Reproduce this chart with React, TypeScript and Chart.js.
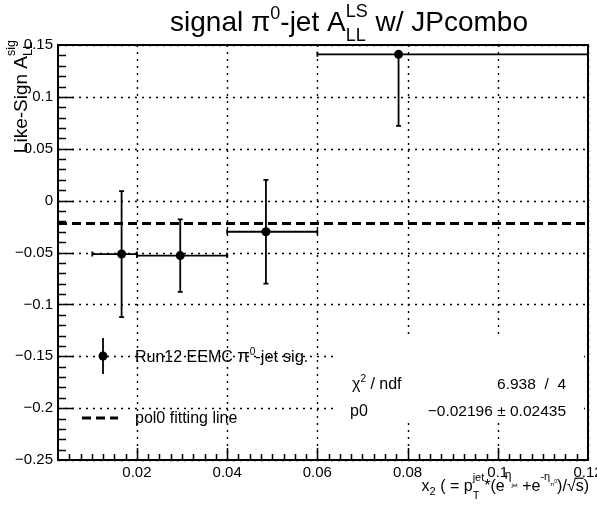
import React, { useEffect, useRef } from "react";
import { Chart, registerables } from "chart.js";

Chart.register(...registerables);

// ---- data ----
const binCenters = [0.0166, 0.0296, 0.0486, 0.078];
const binLow = [0.0101, 0.02, 0.04, 0.06];
const binHigh = [0.02, 0.04, 0.06, 0.12];
const asymValues = [-0.0515, -0.053, -0.03, 0.141];
const asymErrors = [0.0607, 0.035, 0.05, 0.069];
const fitValue = -0.02196;
const fitError = 0.02435;
const chi2Value = 6.938;
const ndf = 4;
const xTicks = [0.02, 0.04, 0.06, 0.08, 0.1, 0.12];
const yTicks = [0.15, 0.1, 0.05, 0, -0.05, -0.1, -0.15, -0.2, -0.25];
const xRange = [0.0025, 0.12];
const yRange = [-0.25, 0.15];
const xMinorStep = 0.0025;
const yMinorStep = 0.01;

const FONT = '"Liberation Sans", Arial, Helvetica, sans-serif';

type Piece = { t: string; size: number; dy?: number; overline?: boolean };
type Group = Piece[];

function groupWidths(ctx: CanvasRenderingContext2D, groups: Group[]) {
  return groups.map((g) =>
    Math.max(
      ...g.map((p) => {
        ctx.font = `${p.size}px ${FONT}`;
        return ctx.measureText(p.t).width;
      })
    )
  );
}

function drawRich(
  ctx: CanvasRenderingContext2D,
  groups: Group[],
  x: number,
  y: number,
  align: "left" | "right" | "center"
) {
  const widths = groupWidths(ctx, groups);
  const total = widths.reduce((a, b) => a + b, 0);
  let cx = align === "left" ? x : align === "right" ? x - total : x - total / 2;
  ctx.textAlign = "left";
  ctx.textBaseline = "alphabetic";
  groups.forEach((g, i) => {
    g.forEach((p) => {
      ctx.font = `${p.size}px ${FONT}`;
      ctx.fillText(p.t, cx, y + (p.dy || 0));
      if (p.overline) {
        const w = ctx.measureText(p.t).width;
        ctx.save();
        ctx.lineWidth = 1.2;
        ctx.beginPath();
        ctx.moveTo(cx - 1, y + (p.dy || 0) - p.size * 0.8);
        ctx.lineTo(cx + w, y + (p.dy || 0) - p.size * 0.8);
        ctx.stroke();
        ctx.restore();
      }
    });
    cx += widths[i];
  });
}

const fmt = (v: number) => {
  const r = Math.round(v * 10000) / 10000;
  return r < 0 ? "\u2212" + String(-r) : String(r);
};

const rootPlugin = {
  id: "rootStyle",
  beforeDatasetsDraw(chart: any) {
    const { ctx, chartArea: a, scales } = chart;
    const xs = scales.x;
    const ys = scales.y;
    ctx.save();
    // dotted grid
    ctx.strokeStyle = "#000";
    ctx.lineWidth = 1.4;
    ctx.setLineDash([2, 5]);
    xTicks.forEach((v) => {
      const px = Math.round(xs.getPixelForValue(v)) + 0.5;
      ctx.beginPath();
      ctx.moveTo(px, a.bottom);
      ctx.lineTo(px, a.top);
      ctx.stroke();
    });
    yTicks.forEach((v) => {
      const py = Math.round(ys.getPixelForValue(v)) + 0.5;
      ctx.beginPath();
      ctx.moveTo(a.left, py);
      ctx.lineTo(a.right, py);
      ctx.stroke();
    });
    ctx.setLineDash([]);
    // error bars (clipped to frame)
    ctx.lineWidth = 1.8;
    const cap = 2.5;
    binCenters.forEach((xc, i) => {
      const px = xs.getPixelForValue(xc);
      const py = ys.getPixelForValue(asymValues[i]);
      const pl = xs.getPixelForValue(binLow[i]);
      const pr = xs.getPixelForValue(binHigh[i]);
      const upV = asymValues[i] + asymErrors[i];
      const loV = asymValues[i] - asymErrors[i];
      ctx.beginPath();
      ctx.moveTo(pl, py);
      ctx.lineTo(pr, py);
      ctx.moveTo(pl, py - cap);
      ctx.lineTo(pl, py + cap);
      ctx.moveTo(pr, py - cap);
      ctx.lineTo(pr, py + cap);
      if (upV <= yRange[1]) {
        const pt = ys.getPixelForValue(upV);
        ctx.moveTo(px, py);
        ctx.lineTo(px, pt);
        ctx.moveTo(px - cap, pt);
        ctx.lineTo(px + cap, pt);
      }
      if (loV >= yRange[0]) {
        const pb = ys.getPixelForValue(loV);
        ctx.moveTo(px, py);
        ctx.lineTo(px, pb);
        ctx.moveTo(px - cap, pb);
        ctx.lineTo(px + cap, pb);
      }
      ctx.stroke();
    });
    ctx.restore();
  },
  afterDatasetsDraw(chart: any) {
    const { ctx, chartArea: a, scales } = chart;
    const xs = scales.x;
    const ys = scales.y;
    ctx.save();
    ctx.fillStyle = "#000";
    ctx.strokeStyle = "#000";

    // stats box (white, no border)
    ctx.fillStyle = "#fff";
    ctx.fillRect(338, 338, 246, 80);
    ctx.fillStyle = "#000";

    // frame
    ctx.lineWidth = 2;
    ctx.strokeRect(a.left, a.top, a.right - a.left, a.bottom - a.top);

    // ticks
    ctx.lineWidth = 1.5;
    ctx.beginPath();
    const nY = Math.round((yRange[1] - yRange[0]) / yMinorStep);
    for (let k = 1; k < nY; k++) {
      const v = yRange[0] + k * yMinorStep;
      const py = Math.round(ys.getPixelForValue(v)) + 0.5;
      const major = yTicks.some((t) => Math.abs(t - v) < 1e-6);
      ctx.moveTo(a.left, py);
      ctx.lineTo(a.left + (major ? 16 : 8), py);
    }
    const nX = Math.round(xRange[1] / xMinorStep);
    for (let k = 2; k < nX; k++) {
      const v = k * xMinorStep;
      const px = Math.round(xs.getPixelForValue(v)) + 0.5;
      const major = xTicks.some((t) => Math.abs(t - v) < 1e-6);
      ctx.moveTo(px, a.bottom);
      ctx.lineTo(px, a.bottom - (major ? 12 : 6));
    }
    ctx.stroke();

    // title
    drawRich(
      ctx,
      [
        [{ t: "signal \u03c0", size: 28 }],
        [{ t: "0", size: 18, dy: -12 }],
        [{ t: "-jet A", size: 28 }],
        [
          { t: "LS", size: 18, dy: -14 },
          { t: "LL", size: 18, dy: 10 },
        ],
        [{ t: " w/ JPcombo", size: 28 }],
      ],
      349,
      31,
      "center"
    );

    // y title (rotated)
    ctx.save();
    ctx.translate(27, 40);
    ctx.rotate(-Math.PI / 2);
    drawRich(
      ctx,
      [
        [{ t: "Like-Sign A", size: 19 }],
        [
          { t: "sig", size: 12.5, dy: -12 },
          { t: "LL", size: 12.5, dy: 5 },
        ],
      ],
      0,
      0,
      "right"
    );
    ctx.restore();

    // x title
    drawRich(
      ctx,
      [
        [{ t: "x", size: 16 }],
        [{ t: "2", size: 11, dy: 4 }],
        [{ t: " ( = p", size: 16 }],
        [
          { t: "jet", size: 11, dy: -10 },
          { t: "T", size: 11, dy: 8 },
        ],
        [{ t: "*(e", size: 16 }],
        [{ t: "\u03b7", size: 12, dy: -12 }],
        [{ t: "jet", size: 6, dy: -4 }],
        [{ t: " +e", size: 16 }],
        [{ t: "-\u03b7", size: 11, dy: -11 }],
        [{ t: "\u03c0", size: 6, dy: -5 }],
        [{ t: "0", size: 5, dy: -8 }],
        [{ t: ")/\u221a", size: 16 }],
        [{ t: "s", size: 16, overline: true }],
        [{ t: ")", size: 16 }],
      ],
      a.right + 1,
      491,
      "right"
    );

    // legend
    const lx = 103;
    const ly1 = 356;
    ctx.lineWidth = 1.8;
    ctx.beginPath();
    ctx.moveTo(lx, ly1 - 18);
    ctx.lineTo(lx, ly1 + 18);
    ctx.stroke();
    ctx.beginPath();
    ctx.arc(lx, ly1, 4.5, 0, Math.PI * 2);
    ctx.fill();
    drawRich(
      ctx,
      [
        [{ t: "Run12 EEMC ", size: 16 }],
        [{ t: "\u03c0", size: 18 }],
        [{ t: "0", size: 10, dy: -7 }],
        [{ t: "-jet sig.", size: 16.5 }],
      ],
      135,
      ly1 + 6,
      "left"
    );
    const ly2 = 418;
    ctx.lineWidth = 3;
    ctx.setLineDash([9, 5]);
    ctx.beginPath();
    ctx.moveTo(82, ly2);
    ctx.lineTo(118, ly2);
    ctx.stroke();
    ctx.setLineDash([]);
    drawRich(ctx, [[{ t: "pol0 fitting line", size: 16 }]], 135, ly2 + 5, "left");

    // stats text
    drawRich(
      ctx,
      [
        [{ t: "\u03c7", size: 16 }],
        [{ t: "2", size: 10, dy: -7 }],
        [{ t: " / ndf", size: 16 }],
      ],
      352,
      389,
      "left"
    );
    drawRich(ctx, [[{ t: `${chi2Value.toFixed(3)}  /  ${ndf}`, size: 15.5 }]], 566, 389, "right");
    drawRich(ctx, [[{ t: "p0", size: 16 }]], 350, 416, "left");
    drawRich(
      ctx,
      [[{ t: `\u2212${Math.abs(fitValue).toFixed(5)} \u00b1 ${fitError.toFixed(5)}`, size: 15.5 }]],
      566,
      416,
      "right"
    );

    ctx.restore();
  },
};

export default function App() {
  const ref = useRef<HTMLCanvasElement | null>(null);
  useEffect(() => {
    if (!ref.current) return;
    const chart = new Chart(ref.current, {
      type: "scatter",
      data: {
        datasets: [
          {
            type: "line",
            data: [
              { x: xRange[0], y: fitValue },
              { x: xRange[1], y: fitValue },
            ],
            borderColor: "#000",
            borderWidth: 3,
            borderDash: [9, 5],
            pointRadius: 0,
            showLine: true,
            fill: false,
          } as any,
          {
            type: "scatter",
            data: binCenters.map((x, i) => ({ x, y: asymValues[i] })),
            backgroundColor: "#000",
            borderColor: "#000",
            pointRadius: 4.5,
            pointBorderWidth: 0,
          },
        ],
      },
      options: {
        animation: false,
        responsive: false,
        devicePixelRatio: 1,
        events: [],
        layout: {
          padding: { top: 45, right: 9, left: 0, bottom: 0 },
          autoPadding: false,
        } as any,
        plugins: {
          legend: { display: false },
          tooltip: { enabled: false },
          title: { display: false },
        },
        scales: {
          x: {
            type: "linear",
            min: xRange[0],
            max: xRange[1],
            grid: { display: false, drawTicks: false },
            border: { display: false },
            ticks: {
              font: { family: FONT, size: 15 },
              color: "#000",
              padding: 4,
              maxRotation: 0,
              minRotation: 0,
              autoSkip: false,
              callback: (v: any) => fmt(Number(v)),
            },
            afterBuildTicks: (s: any) => {
              s.ticks = xTicks.map((v) => ({ value: v }));
            },
            afterFit: (s: any) => {
              s.height = 52;
              s.paddingLeft = 0;
              s.paddingRight = 0;
            },
          },
          y: {
            type: "linear",
            min: yRange[0],
            max: yRange[1],
            grid: { display: false, drawTicks: false },
            border: { display: false },
            ticks: {
              font: { family: FONT, size: 15 },
              color: "#000",
              padding: 5,
              autoSkip: false,
              callback: (v: any) => fmt(Number(v)),
            },
            afterBuildTicks: (s: any) => {
              s.ticks = yTicks.map((v) => ({ value: v }));
            },
            afterFit: (s: any) => {
              s.width = 58;
              s.paddingTop = 0;
              s.paddingBottom = 0;
            },
          },
        },
      },
      plugins: [rootPlugin],
    });
    return () => chart.destroy();
  }, []);
  return (
    <div
      style={{
        position: "absolute",
        left: 0,
        top: 0,
        width: 597,
        height: 512,
        background: "#fff",
      }}
    >
      <canvas ref={ref} width={597} height={512} style={{ display: "block" }} />
    </div>
  );
}
